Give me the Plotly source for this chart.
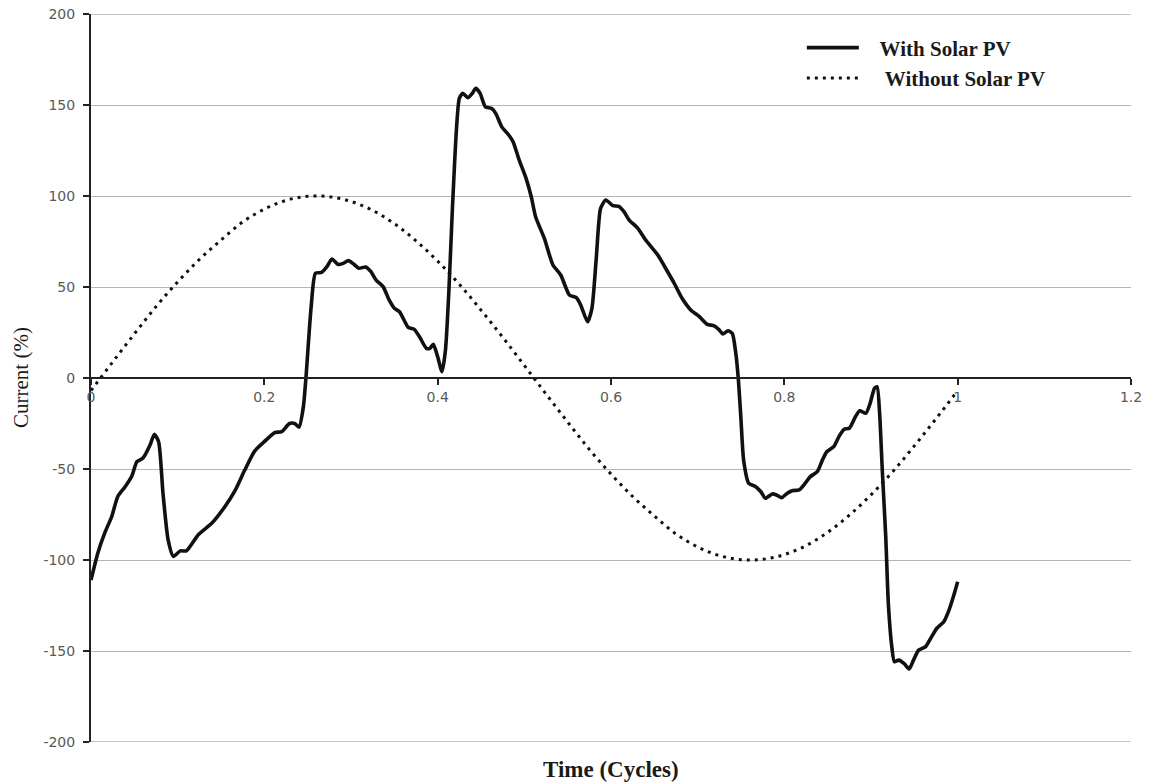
import plotly.graph_objects as go

# ---- data ----
time_with = [0.000, 0.008, 0.016, 0.024, 0.031, 0.039, 0.047, 0.053, 0.060, 0.068, 0.073, 0.078,
             0.083, 0.089, 0.095, 0.103, 0.110, 0.124, 0.139, 0.154, 0.166, 0.177, 0.189, 0.200,
             0.212, 0.220, 0.229, 0.235, 0.240, 0.245, 0.248, 0.254, 0.259, 0.266, 0.272, 0.278,
             0.285, 0.291, 0.297, 0.303, 0.309, 0.317, 0.323, 0.329, 0.337, 0.344, 0.350, 0.356,
             0.366, 0.373, 0.379, 0.387, 0.391, 0.395, 0.400, 0.405, 0.409, 0.413, 0.417, 0.422,
             0.425, 0.429, 0.435, 0.440, 0.444, 0.449, 0.455, 0.462, 0.467, 0.474, 0.482, 0.487,
             0.494, 0.502, 0.508, 0.513, 0.523, 0.533, 0.542, 0.552, 0.560, 0.565, 0.573, 0.578,
             0.583, 0.588, 0.594, 0.602, 0.609, 0.615, 0.621, 0.631, 0.640, 0.654, 0.663, 0.673,
             0.682, 0.692, 0.702, 0.711, 0.719, 0.725, 0.729, 0.735, 0.740, 0.744, 0.747, 0.750,
             0.753, 0.759, 0.767, 0.773, 0.778, 0.786, 0.791, 0.797, 0.803, 0.809, 0.817, 0.824,
             0.830, 0.838, 0.844, 0.849, 0.857, 0.863, 0.869, 0.875, 0.882, 0.887, 0.894, 0.899,
             0.904, 0.907, 0.910, 0.913, 0.917, 0.920, 0.924, 0.927, 0.932, 0.938, 0.944, 0.949,
             0.955, 0.963, 0.970, 0.976, 0.984, 0.990, 0.995, 1.000]
current_with = [-111, -96, -85, -76, -65, -60, -54, -46, -44, -37, -31, -35,
                -63, -89, -98, -95, -95, -86, -80, -71, -62, -51, -40, -35,
                -30, -29.5, -25, -25, -27, -16, 0, 39, 57.5, 58, 61, 65.4,
                62.4, 63, 64.5, 62.6, 60.3, 61, 58.4, 53.8, 50.2, 42.9, 38.3, 36.4,
                27.8, 26.7, 22.7, 16.3, 16.3, 18.5, 11.7, 3.5, 15.4, 48.4, 93, 139,
                153.7, 156.4, 154, 156.4, 159.2, 156.4, 149, 148.2, 145.4, 138, 133.5, 129.8,
                119.8, 109.7, 99.6, 88.6, 76.8, 62.1, 56.6, 45.6, 44.1, 40.1, 30.9, 38.3,
                65.8, 93.2, 97.8, 94.7, 94.3, 91.4, 86.8, 82.2, 75.8, 67.6, 60.3, 52,
                43.8, 37.4, 33.7, 29.5, 28.7, 26.4, 24.2, 26, 24.5, 13.6, -1, -23,
                -45, -57.9, -59.7, -62.5, -66.1, -63.7, -64.3, -65.8, -63.4, -61.9, -61.5, -57.9,
                -54.2, -51.5, -45, -40.5, -37.7, -32.2, -28.2, -27.6, -21.3, -18, -19.4, -13.9,
                -5.7, -4.8, -20, -50.5, -87, -123.8, -147.6, -155.9, -155, -156.8, -159.9, -155,
                -149.5, -147.6, -142.1, -137.5, -133.9, -127.5, -120.2, -111.9]

time_without = [0.000, 0.025, 0.050, 0.075, 0.100, 0.125, 0.150, 0.175, 0.200, 0.225, 0.250,
                0.275, 0.300, 0.325, 0.350, 0.375, 0.400, 0.425, 0.450, 0.475, 0.500, 0.525,
                0.550, 0.575, 0.600, 0.625, 0.650, 0.675, 0.700, 0.725, 0.750, 0.775, 0.800,
                0.825, 0.850, 0.875, 0.900, 0.925, 0.950, 0.975, 1.000]
current_without = [-6.9, 8.8, 24.2, 39.2, 52.8, 65.1, 75.8, 85.7, 92.8, 97.6, 99.8,
                   99.6, 97.0, 92.1, 84.8, 75.4, 64.2, 51.5, 37.3, 22.4, 6.9, -8.8,
                   -24.2, -39.2, -52.8, -65.1, -75.8, -85.7, -92.8, -97.6, -99.8, -99.6, -97.0,
                   -92.1, -84.8, -75.4, -64.2, -51.5, -37.3, -22.4, -6.9]

series_names = ["With Solar PV", "Without Solar PV"]
x_tickvals = [0, 0.2, 0.4, 0.6, 0.8, 1.0, 1.2]
x_ticktext = ["0", "0.2", "0.4", "0.6", "0.8", "1", "1.2"]
y_tickvals = [200, 150, 100, 50, 0, -50, -100, -150, -200]
y_ticktext = ["200", "150", "100", "50", "0", "-50", "-100", "-150", "-200"]
y_range = [-200, 200]
x_title = "Time (Cycles)"
y_title = "Current (%)"

NB = "\u00a0"
fig = go.Figure()
fig.add_trace(go.Scatter(
    x=time_with, y=current_with, mode="lines", name=NB * 3 + series_names[0],
    line=dict(color="#111111", width=3.6, shape="spline", smoothing=0.6),
))
fig.add_trace(go.Scatter(
    x=time_without, y=current_without, mode="lines", name=NB * 4 + series_names[1],
    line=dict(color="#111111", width=3, dash="3px,5px", shape="spline", smoothing=1.0),
))

tick_font = dict(family="DejaVu Sans", size=14, color="#595959")
grid_color = "#b5b5b5"

fig.update_layout(
    width=1151, height=784,
    margin=dict(l=91, r=20, t=14, b=42),
    paper_bgcolor="white", plot_bgcolor="white",
    showlegend=True,
    legend=dict(
        x=0.6835, y=0.9815, xanchor="left", yanchor="top",
        bgcolor="rgba(0,0,0,0)",
        font=dict(family="Liberation Serif", size=21, color="#1a1a1a", weight="bold"),
        itemwidth=52, tracegroupgap=4,
    ),
    xaxis=dict(
        range=[0, 1.2], anchor="free", position=0.5,
        tickvals=x_tickvals, ticktext=x_ticktext, tickfont=tick_font,
        ticks="outside", ticklen=6, tickwidth=1.5, tickcolor="#222222",
        showline=True, linecolor="#222222", linewidth=1.8,
        showgrid=False, zeroline=False, automargin=False,
    ),
    yaxis=dict(
        range=y_range,
        tickvals=y_tickvals, ticktext=y_ticktext, tickfont=tick_font,
        ticks="outside", ticklen=6, tickwidth=1.5, tickcolor="#222222",
        ticklabelstandoff=5, ticklabeloverflow="allow",
        showline=True, linecolor="#222222", linewidth=2,
        showgrid=True, gridcolor=grid_color, gridwidth=1.3,
        zeroline=False, automargin=False,
    ),
    shapes=[
        dict(type="line", xref="paper", yref="y", x0=0, x1=1, y0=y_range[1], y1=y_range[1],
             line=dict(color=grid_color, width=1.3), layer="below"),
        dict(type="line", xref="paper", yref="y", x0=0, x1=1, y0=y_range[0], y1=y_range[0],
             line=dict(color=grid_color, width=1.3), layer="below"),
    ],
    annotations=[
        dict(text=x_title, xref="paper", yref="paper", x=0.5, y=0, yshift=-27,
             xanchor="center", yanchor="middle", showarrow=False,
             font=dict(family="Liberation Serif", size=23, color="#1a1a1a", weight="bold")),
        dict(text=y_title, xref="paper", yref="paper", x=0, y=0.5, xshift=-70,
             xanchor="center", yanchor="middle", showarrow=False, textangle=-90,
             font=dict(family="Liberation Serif", size=21, color="#1a1a1a")),
    ],
)

fig.write_html("out.html", config={"displayModeBar": False},
               post_script="document.body.style.margin='0px';")
